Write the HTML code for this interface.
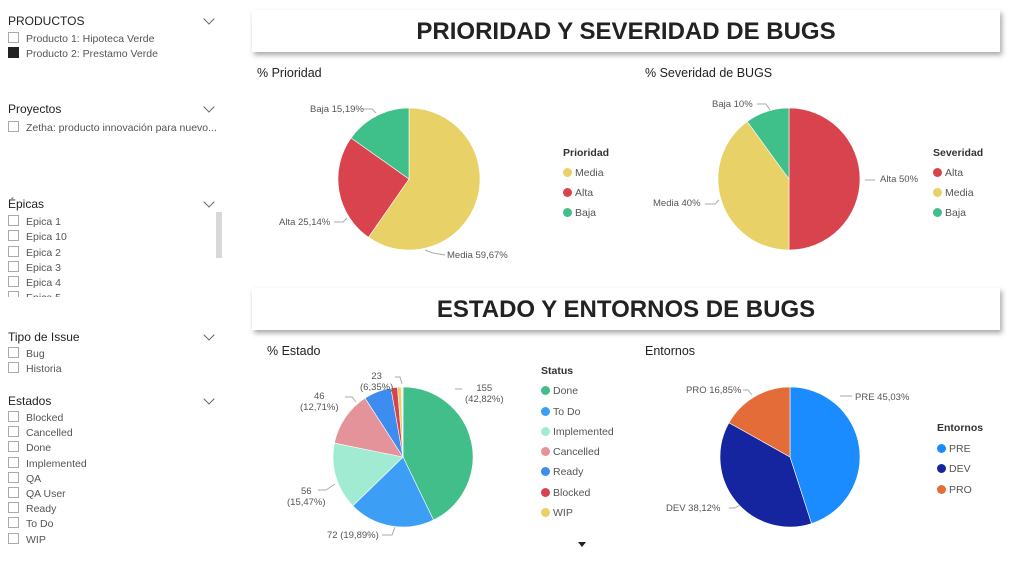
<!DOCTYPE html><html><head><meta charset="utf-8"><style>
body{margin:0;width:1024px;height:575px;background:#fff;font-family:"Liberation Sans",sans-serif;position:relative;overflow:hidden;color:#333}
.a{position:absolute;white-space:nowrap}
.h{font-size:12px;color:#222}
.i{font-size:10.5px;color:#555}
.cb{display:inline-block;width:9px;height:9px;border:1px solid #aaa;vertical-align:-1px;margin-right:7px}
.chev{position:absolute;left:205px;width:7px;height:7px;border-right:1px solid #666;border-bottom:1px solid #666;transform:rotate(45deg)}
.ban{position:absolute;left:252px;width:748px;height:42px;background:#fff;box-shadow:2px 3px 5px rgba(0,0,0,.35);font-weight:bold;font-size:24px;text-align:center;line-height:44px;color:#222}
.t{font-size:12.5px;color:#222}
.l{font-size:9.5px;color:#555}
.lg{font-size:10.5px;color:#555}
.dot{display:inline-block;width:9px;height:9px;border-radius:50%;margin-right:3px;vertical-align:-1px}
</style></head><body>
<div class="a h" style="left:8px;top:14px">PRODUCTOS</div><div class="chev" style="top:15px"></div>
<div class="a i" style="left:8px;top:32px"><span class="cb"></span>Producto 1: Hipoteca Verde</div>
<div class="a i" style="left:8px;top:47px"><span class="cb" style="background:#222;border-color:#222"></span>Producto 2: Prestamo Verde</div>
<div class="a h" style="left:8px;top:102px">Proyectos</div><div class="chev" style="top:103px"></div>
<div class="a i" style="left:8px;top:121px"><span class="cb"></span>Zetha: producto innovación para nuevo...</div>
<div class="a h" style="left:8px;top:197px">Épicas</div><div class="chev" style="top:198px"></div>
<div class="a" style="left:216px;top:212px;width:6px;height:46px;background:#d8d8d8"></div>
<div class="a i" style="left:8px;top:215px;line-height:15.3px;height:82px;overflow:hidden"><span class="cb"></span>Epica 1<br><span class="cb"></span>Epica 10<br><span class="cb"></span>Epica 2<br><span class="cb"></span>Epica 3<br><span class="cb"></span>Epica 4<br><span class="cb"></span>Epica 5</div>
<div class="a h" style="left:8px;top:330px">Tipo de Issue</div><div class="chev" style="top:331px"></div>
<div class="a i" style="left:8px;top:347px;line-height:15.3px"><span class="cb"></span>Bug<br><span class="cb"></span>Historia</div>
<div class="a h" style="left:8px;top:394px">Estados</div><div class="chev" style="top:395px"></div>
<div class="a i" style="left:8px;top:411px;line-height:15.2px"><span class="cb"></span>Blocked<br><span class="cb"></span>Cancelled<br><span class="cb"></span>Done<br><span class="cb"></span>Implemented<br><span class="cb"></span>QA<br><span class="cb"></span>QA User<br><span class="cb"></span>Ready<br><span class="cb"></span>To Do<br><span class="cb"></span>WIP</div>

<div class="ban" style="top:10px">PRIORIDAD Y SEVERIDAD DE BUGS</div>
<div class="ban" style="top:288px">ESTADO Y ENTORNOS DE BUGS</div>

<div class="a t" style="left:257px;top:66px">% Prioridad</div>
<div class="a t" style="left:645px;top:66px">% Severidad de BUGS</div>
<div class="a t" style="left:267px;top:344px">% Estado</div>
<div class="a t" style="left:645px;top:344px">Entornos</div>

<svg id="s" class="a" style="left:0;top:0" width="1024" height="575"></svg>

<div class="a l" style="left:310px;top:104px">Baja 15,19%</div>
<div class="a l" style="left:279px;top:217px">Alta 25,14%</div>
<div class="a l" style="left:447px;top:250px">Media 59,67%</div>
<div class="a l" style="left:712px;top:99px">Baja 10%</div>
<div class="a l" style="left:880px;top:174px">Alta 50%</div>
<div class="a l" style="left:653px;top:198px">Media 40%</div>
<div class="a l" style="left:465px;top:383px;text-align:center">155<br>(42,82%)</div>
<div class="a l" style="left:360px;top:371px;text-align:center">23<br>(6,35%)</div>
<div class="a l" style="left:300px;top:391px;text-align:center">46<br>(12,71%)</div>
<div class="a l" style="left:287px;top:486px;text-align:center">56<br>(15,47%)</div>
<div class="a l" style="left:327px;top:530px">72 (19,89%)</div>
<div class="a l" style="left:855px;top:392px">PRE 45,03%</div>
<div class="a l" style="left:686px;top:385px">PRO 16,85%</div>
<div class="a l" style="left:666px;top:503px">DEV 38,12%</div>

<div class="a lg" style="left:563px;top:143px;line-height:20px"><b style="color:#333">Prioridad</b><br><span class="dot" style="background:#E8D166"></span>Media<br><span class="dot" style="background:#D9434E"></span>Alta<br><span class="dot" style="background:#3FBF8A"></span>Baja</div>
<div class="a lg" style="left:933px;top:143px;line-height:20px"><b style="color:#333">Severidad</b><br><span class="dot" style="background:#D9434E"></span>Alta<br><span class="dot" style="background:#E8D166"></span>Media<br><span class="dot" style="background:#3FBF8A"></span>Baja</div>
<div class="a lg" style="left:541px;top:361px;line-height:20.3px"><b style="color:#333">Status</b><br><span class="dot" style="background:#41BE8A"></span>Done<br><span class="dot" style="background:#3D9EF5"></span>To Do<br><span class="dot" style="background:#A2EBD3"></span>Implemented<br><span class="dot" style="background:#E4939B"></span>Cancelled<br><span class="dot" style="background:#3D8DF0"></span>Ready<br><span class="dot" style="background:#D9434E"></span>Blocked<br><span class="dot" style="background:#E8D166"></span>WIP</div>
<div class="a" style="left:578px;top:542px;width:0;height:0;border-left:4px solid transparent;border-right:4px solid transparent;border-top:5px solid #222"></div>
<div class="a lg" style="left:937px;top:418px;line-height:20.5px"><b style="color:#333">Entornos</b><br><span class="dot" style="background:#1A8CFF"></span>PRE<br><span class="dot" style="background:#15259F"></span>DEV<br><span class="dot" style="background:#E46C38"></span>PRO</div>

<script>
var s=document.getElementById('s'),h='';
function pie(cx,cy,r,d){var a=0;d.forEach(function(p){var a2=a+p[0]/100*2*Math.PI;
var x1=cx+r*Math.sin(a),y1=cy-r*Math.cos(a),x2=cx+r*Math.sin(a2),y2=cy-r*Math.cos(a2);
h+='<path d="M'+cx+','+cy+'L'+x1+','+y1+'A'+r+','+r+' 0 '+(a2-a>Math.PI?1:0)+' 1 '+x2+','+y2+'Z" fill="'+p[1]+'" stroke="#fff" stroke-width="0.6"/>';a=a2;});}
pie(409,179,71,[[59.67,'#E8D166'],[25.14,'#D9434E'],[15.19,'#3FBF8A']]);
pie(789,179,71,[[50,'#D9434E'],[40,'#E8D166'],[10,'#3FBF8A']]);
pie(403,457,70,[[42.82,'#41BE8A'],[19.89,'#3D9EF5'],[15.47,'#A2EBD3'],[12.71,'#E4939B'],[6.35,'#3D8DF0'],[1.5,'#D9434E'],[0.9,'#E8D166'],[0.36,'#eeeeee']]);
pie(790,457,70,[[45.03,'#1A8CFF'],[38.12,'#15259F'],[16.85,'#E46C38']]);
var L=[[363,109,372,109,376,113],[334,222,343,222,347,218],[425,250,433,253,445,255],[757,104,766,104,770,110],[865,180,875,180],[705,204,715,204,719,200],[455,389,462,389],[395,377,400,377,402,384],[345,397,352,397,356,402],[318,490,326,490,335,484],[382,535,392,535,395,527],[840,396,852,396],[743,390,748,390,752,395],[729,508,735,508,740,505]];
L.forEach(function(p){h+='<polyline points="'+p.join(',')+'" fill="none" stroke="#aaa" stroke-width="1"/>';});
s.innerHTML=h;
</script>
</body></html>
